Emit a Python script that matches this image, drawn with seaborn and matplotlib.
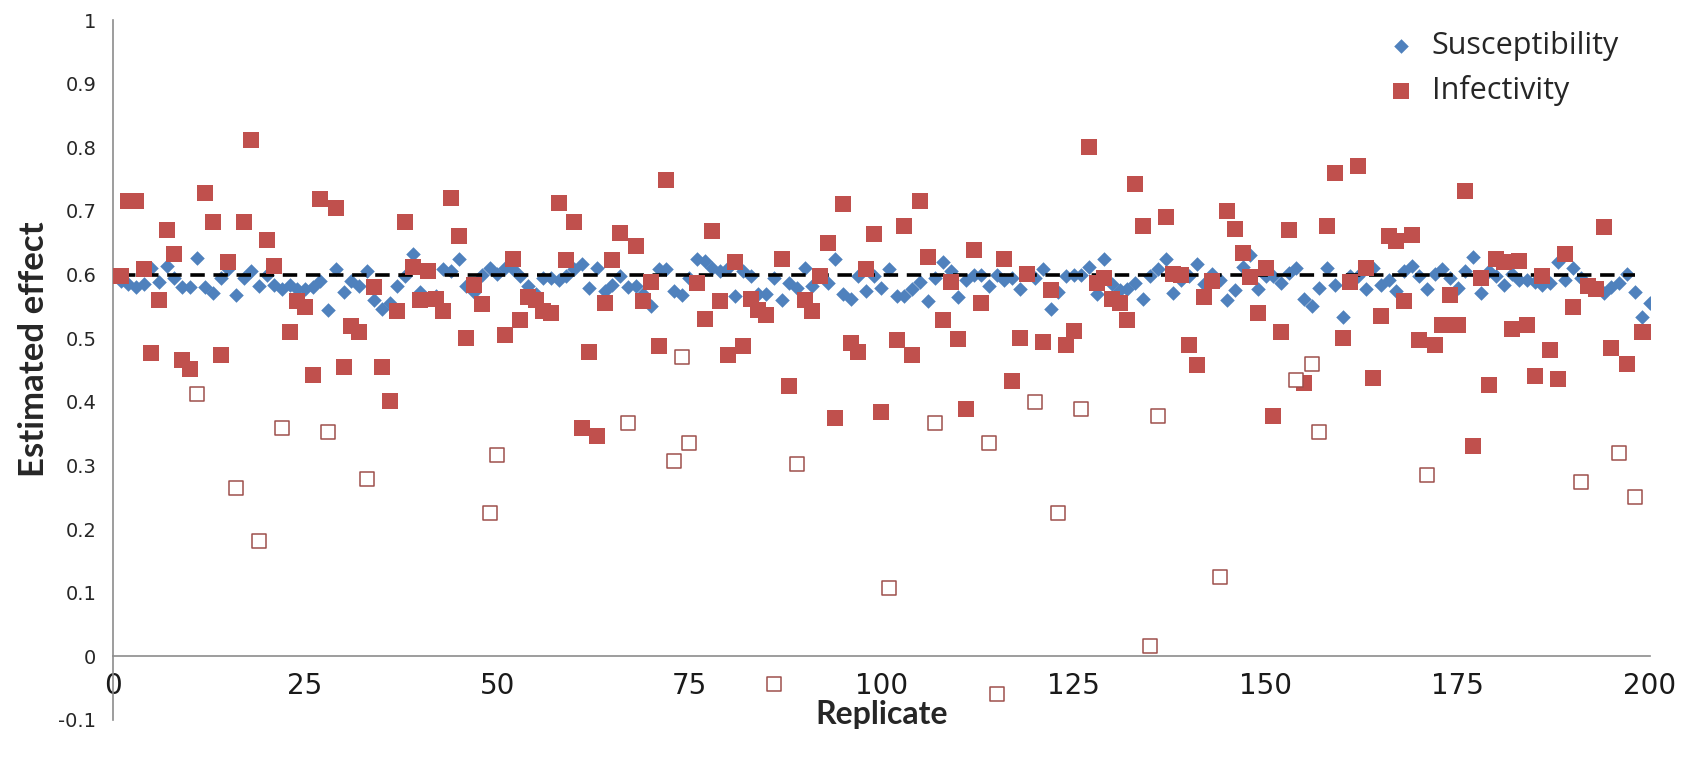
import matplotlib
matplotlib.use("Agg")
import pandas as pd
import matplotlib.pyplot as plt
import seaborn as sns

# ----------------------------
# Data
# ----------------------------
replicate = list(range(1, 201))

susceptibility = [
    0.590, 0.585, 0.580, 0.585, 0.611, 0.589, 0.614, 0.594, 0.580, 0.580,
    0.626, 0.580, 0.571, 0.594, 0.608, 0.568, 0.594, 0.605, 0.582, 0.600,
    0.584, 0.578, 0.584, 0.578, 0.578, 0.580, 0.590, 0.544, 0.608, 0.573,
    0.590, 0.582, 0.606, 0.560, 0.546, 0.555, 0.582, 0.598, 0.632, 0.573,
    0.562, 0.566, 0.608, 0.605, 0.625, 0.582, 0.573, 0.599, 0.611, 0.601,
    0.610, 0.608, 0.598, 0.582, 0.569, 0.594, 0.594, 0.592, 0.598, 0.608,
    0.617, 0.579, 0.610, 0.574, 0.584, 0.598, 0.580, 0.582, 0.569, 0.550,
    0.608, 0.608, 0.574, 0.568, 0.595, 0.624, 0.621, 0.611, 0.605, 0.611,
    0.566, 0.605, 0.597, 0.569, 0.569, 0.594, 0.560, 0.587, 0.579, 0.610,
    0.582, 0.598, 0.587, 0.624, 0.569, 0.562, 0.598, 0.574, 0.598, 0.579,
    0.608, 0.567, 0.567, 0.578, 0.589, 0.558, 0.595, 0.619, 0.606, 0.564,
    0.592, 0.600, 0.600, 0.582, 0.600, 0.592, 0.594, 0.578, 0.601, 0.594,
    0.608, 0.546, 0.573, 0.598, 0.600, 0.600, 0.612, 0.569, 0.624, 0.585,
    0.575, 0.578, 0.587, 0.562, 0.598, 0.609, 0.624, 0.571, 0.592, 0.598,
    0.616, 0.585, 0.601, 0.592, 0.560, 0.576, 0.612, 0.630, 0.578, 0.597,
    0.598, 0.587, 0.603, 0.611, 0.562, 0.550, 0.579, 0.610, 0.584, 0.533,
    0.598, 0.598, 0.578, 0.611, 0.584, 0.592, 0.574, 0.606, 0.614, 0.597,
    0.578, 0.601, 0.608, 0.594, 0.579, 0.605, 0.627, 0.571, 0.606, 0.597,
    0.584, 0.601, 0.592, 0.592, 0.589, 0.584, 0.587, 0.619, 0.592, 0.611,
    0.594, 0.582, 0.578, 0.571, 0.580, 0.587, 0.601, 0.573, 0.533, 0.555,
]

infectivity = [
    0.598, 0.715, 0.715, 0.609, 0.476, 0.560, 0.670, 0.632, 0.466, 0.452,
    0.413, 0.728, 0.682, 0.474, 0.619, 0.264, 0.682, 0.812, 0.182, 0.655,
    0.613, 0.359, 0.510, 0.558, 0.549, 0.442, 0.718, 0.353, 0.704, 0.454,
    0.519, 0.510, 0.279, 0.580, 0.454, 0.402, 0.542, 0.682, 0.612, 0.560,
    0.605, 0.562, 0.542, 0.720, 0.661, 0.501, 0.584, 0.553, 0.225, 0.316,
    0.505, 0.625, 0.528, 0.565, 0.560, 0.542, 0.540, 0.712, 0.623, 0.683,
    0.359, 0.478, 0.347, 0.555, 0.623, 0.666, 0.367, 0.645, 0.558, 0.589,
    0.487, 0.749, 0.307, 0.470, 0.335, 0.587, 0.530, 0.668, 0.558, 0.474,
    0.620, 0.488, 0.562, 0.544, 0.537, -0.044, 0.625, 0.425, 0.303, 0.560,
    0.542, 0.598, 0.650, 0.375, 0.711, 0.492, 0.479, 0.608, 0.664, 0.384,
    0.107, 0.497, 0.677, 0.474, 0.715, 0.627, 0.366, 0.528, 0.589, 0.499,
    0.388, 0.638, 0.555, 0.335, -0.060, 0.625, 0.433, 0.501, 0.601, 0.399,
    0.494, 0.576, 0.226, 0.489, 0.512, 0.388, 0.800, 0.587, 0.594, 0.562,
    0.555, 0.528, 0.743, 0.677, 0.016, 0.377, 0.690, 0.601, 0.600, 0.489,
    0.458, 0.564, 0.590, 0.125, 0.700, 0.672, 0.634, 0.596, 0.539, 0.610,
    0.377, 0.510, 0.670, 0.435, 0.429, 0.460, 0.352, 0.677, 0.759, 0.501,
    0.589, 0.771, 0.611, 0.438, 0.535, 0.661, 0.653, 0.558, 0.662, 0.497,
    0.285, 0.489, 0.521, 0.568, 0.521, 0.732, 0.330, 0.594, 0.426, 0.624,
    0.619, 0.515, 0.621, 0.521, 0.440, 0.597, 0.481, 0.436, 0.632, 0.549,
    0.274, 0.582, 0.578, 0.674, 0.485, 0.319, 0.460, 0.250, 0.510, 0.510,
]

# replicates whose infectivity estimate is shown as an open square
flagged = [11, 16, 19, 22, 28, 33, 49, 50, 67, 73, 74, 75, 86, 89, 101, 107,
           114, 115, 120, 123, 126, 135, 136, 144, 154, 156, 157, 171, 191,
           196, 198]

true_x = [1, 198]
true_y = [0.6, 0.6]

x_ticks = [0, 25, 50, 75, 100, 125, 150, 175, 200]
y_ticks = [-0.1, 0, 0.1, 0.2, 0.3, 0.4, 0.5, 0.6, 0.7, 0.8, 0.9, 1]

df = pd.DataFrame({"Replicate": replicate,
                   "Susceptibility": susceptibility,
                   "Infectivity": infectivity})
df["flag"] = df["Replicate"].isin(flagged)

# ----------------------------
# Plot
# ----------------------------
sns.set_style("white")
plt.rcParams["font.family"] = ["DejaVu Sans"]

fig = plt.figure(figsize=(16.86, 7.7), dpi=100)
ax = fig.add_axes([0.067, 0.065, 0.9116, 0.909])

blue = "#4F81BD"
red = "#C0504D"

sns.scatterplot(data=df, x="Replicate", y="Susceptibility", ax=ax,
                marker="D", s=55, color=blue, linewidth=0,
                label="Susceptibility", zorder=2)
sns.lineplot(x=true_x, y=true_y, ax=ax, color="black", linewidth=2.6,
             dashes=False, zorder=3, legend=False)
ax.lines[-1].set_dashes((4, 2.4))
sns.scatterplot(data=df[~df["flag"]], x="Replicate", y="Infectivity", ax=ax,
                marker="s", s=120, color=red, linewidth=0,
                label="Infectivity", zorder=4)
sns.scatterplot(data=df[df["flag"]], x="Replicate", y="Infectivity", ax=ax,
                marker="s", s=95, facecolor="white", edgecolor="#9E4F4C",
                linewidth=1.1, legend=False, zorder=4)

ax.set_xlim(0, 200)
ax.set_ylim(-0.1, 1)
ax.set_xticks(x_ticks)
ax.set_yticks(y_ticks)
ax.set_yticklabels(["%g" % v for v in y_ticks])

for s in ["top", "right"]:
    ax.spines[s].set_visible(False)
ax.spines["bottom"].set_position(("data", 0))
for s in ["left", "bottom"]:
    ax.spines[s].set_color("#8C8C8C")
    ax.spines[s].set_linewidth(1.2)

ax.tick_params(axis="y", direction="out", length=6, width=1.1,
               color="#8C8C8C", labelsize=14, labelcolor="#262626", pad=6)
ax.tick_params(axis="x", direction="out", length=7, width=1.1,
               color="#8C8C8C", labelsize=20, labelcolor="#1a1a1a", pad=4)

ax.set_xlabel("Replicate", family="Lato", fontweight="bold", fontsize=23)
ax.set_ylabel("Estimated effect", family="Lato", fontweight="bold",
              fontsize=25)
ax.xaxis.set_label_coords(0.5, 0.029)
ax.yaxis.set_label_coords(-0.041, 0.53)

handles, labels = ax.get_legend_handles_labels()
ax.legend(handles, labels, loc="upper left", bbox_to_anchor=(0.8129, 0.98),
          bbox_transform=fig.transFigure, frameon=False, borderpad=0,
          handlelength=1.0, handletextpad=0.5, labelspacing=0.48,
          prop={"family": "Open Sans", "size": 22})

fig.savefig("out.png", dpi=100, facecolor="white")
